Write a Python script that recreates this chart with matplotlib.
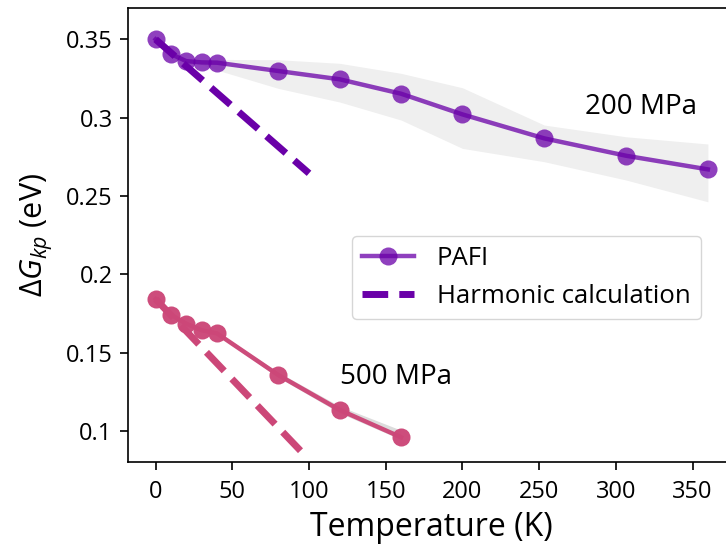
import matplotlib
matplotlib.use("Agg")
import matplotlib.pyplot as plt
import numpy as np

plt.rcParams['font.family'] = ['Open Sans', 'DejaVu Sans']
plt.rcParams['mathtext.fontset'] = 'custom'
plt.rcParams['mathtext.rm'] = 'Open Sans'
plt.rcParams['mathtext.it'] = 'Open Sans:italic'

# ---- data ----
T_200 = [0, 10, 20, 30, 40, 80, 120, 160, 200, 253.3, 306.7, 360]
G_200 = [0.350, 0.3406, 0.3361, 0.3353, 0.3351, 0.3298, 0.3245, 0.3153, 0.3021, 0.2868, 0.2757, 0.2670]
G_200_up = [0.350, 0.341, 0.3365, 0.337, 0.3372, 0.3370, 0.3347, 0.3283, 0.3191, 0.2953, 0.2878, 0.2832]
G_200_lo = [0.350, 0.340, 0.3355, 0.334, 0.3304, 0.3187, 0.3100, 0.2985, 0.2804, 0.2719, 0.2602, 0.2463]

T_500 = [0, 10, 20, 30, 40, 80, 120, 160]
G_500 = [0.1842, 0.1742, 0.1685, 0.1643, 0.1623, 0.1357, 0.1134, 0.0960]
G_500_up = [0.1842, 0.1745, 0.1690, 0.1650, 0.1635, 0.1375, 0.1158, 0.1005]
G_500_lo = [0.1842, 0.1739, 0.1680, 0.1636, 0.1612, 0.1342, 0.1115, 0.0945]

T_harm = [0, 100]
G_harm_200 = [0.350, 0.2645]
T_harm_500 = [0, 96]
G_harm_500 = [0.1842, 0.0858]

yticks = [0.1, 0.15, 0.2, 0.25, 0.3, 0.35]
ytick_labels = ['0.1', '0.15', '0.2', '0.25', '0.3', '0.35']
xticks = [0, 50, 100, 150, 200, 250, 300, 350]

c200 = '#6a00a8'
c500 = '#cc4778'

fig = plt.figure(figsize=(7.26, 5.54), dpi=100)
ax = fig.add_axes([0.1763, 0.1655, 0.8368, 0.8200])

ax.fill_between(T_200, G_200_lo, G_200_up, color='#efefef', lw=0, zorder=1)
ax.fill_between(T_500, G_500_lo, G_500_up, color='#dcdcdc', lw=0, zorder=1)

ax.plot(T_200, G_200, 'o-', color=c200, alpha=0.75, ms=13, mew=0, lw=3.2, zorder=3, label='PAFI')
ax.plot(T_harm, G_harm_200, '--', color=c200, lw=5, zorder=2, label='Harmonic calculation')
ax.plot(T_500, G_500, 'o-', color=c500, alpha=0.97, ms=13, mew=0, lw=3.2, zorder=3)
ax.plot(T_harm_500, G_harm_500, '--', color=c500, lw=5, zorder=2)

ax.text(280, 0.3068, '200 MPa', fontsize=20, va='center', ha='left')
ax.text(120, 0.1345, '500 MPa', fontsize=20, va='center', ha='left')

ax.set_xlim(-18, 378)
ax.set_ylim(0.08, 0.37)
ax.set_xticks(xticks)
ax.set_yticks(yticks)
ax.set_yticklabels(ytick_labels)
ax.tick_params(labelsize=17, length=6, width=1.2)
ax.tick_params(axis='x', pad=7)
ax.tick_params(axis='y', pad=5)
for s in ax.spines.values():
    s.set_linewidth(1.2)

ax.set_xlabel('Temperature (K)', fontsize=23, labelpad=5)
ax.set_ylabel(r'$\Delta G_{kp}$ (eV)', fontsize=22, labelpad=8)

leg = ax.legend(loc='upper left', bbox_to_anchor=(0.3687, 0.498), borderaxespad=0,
                fontsize=18.5, handlelength=2.0, handletextpad=0.9)

fig.savefig('out.png', dpi=100)
